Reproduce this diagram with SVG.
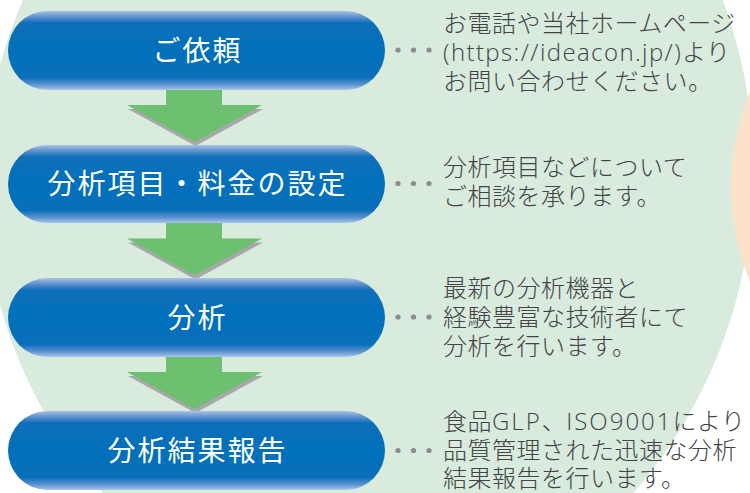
<svg xmlns="http://www.w3.org/2000/svg" width="750" height="493" viewBox="0 0 750 493">
  <defs>
    <linearGradient id="pill" x1="0" y1="0" x2="0" y2="1">
      <stop offset="0" stop-color="#a9c4e6"/>
      <stop offset="0.06" stop-color="#6d9ad2"/>
      <stop offset="0.15" stop-color="#0f6fba"/>
      <stop offset="0.5" stop-color="#0070bb"/>
      <stop offset="0.84" stop-color="#0a6fb9"/>
      <stop offset="0.93" stop-color="#5d92cf"/>
      <stop offset="1" stop-color="#a9c6e8"/>
    </linearGradient>
    <clipPath id="lensClip">
      <circle cx="261.5" cy="171" r="492"/>
    </clipPath>
    <polygon id="arrowHead" points="127,0 262,0 194.5,37"/>
  </defs>
  <style>
    .pill { fill: url(#pill); }
    .label { fill: #ffffff; font-family: "Noto Sans CJK JP", "Noto Sans", sans-serif; font-size: 28px; letter-spacing: 2px; text-anchor: middle; }
    .desc { fill: #444444; font-family: "Noto Sans CJK JP", "Noto Sans", sans-serif; font-size: 24px; font-weight: 300; letter-spacing: 0.5px; }
    .lat { font-family: "Open Sans", "Noto Sans CJK JP", sans-serif; font-weight: 300; letter-spacing: 1.4px; }
    .lat2 { letter-spacing: 2px; }
    .dot { fill: #8c8c8c; }
    .arrow { fill: #6cc070; }
    .shadow { fill: #a8a8aa; }
  </style>

  <!-- background -->
  <rect x="0" y="0" width="750" height="493" fill="#ffffff"/>
  <circle cx="442" cy="185" r="458" fill="#d8ebdd" clip-path="url(#lensClip)"/>
  <circle cx="977" cy="187" r="246" fill="#fde2cb"/>

  <!-- connectors -->
  <g id="connectors">
    <g id="arrow1">
      <use href="#arrowHead" class="shadow" transform="translate(1,109)"/>
      <rect class="arrow" x="166" y="89" width="56" height="17"/>
      <use href="#arrowHead" class="arrow" transform="translate(0,105)"/>
    </g>
    <g id="arrow2">
      <use href="#arrowHead" class="shadow" transform="translate(1,242.5)"/>
      <rect class="arrow" x="166" y="222" width="56" height="17.5"/>
      <use href="#arrowHead" class="arrow" transform="translate(0,238.5)"/>
    </g>
    <g id="arrow3">
      <use href="#arrowHead" class="shadow" transform="translate(1,376)"/>
      <rect class="arrow" x="166" y="356" width="56" height="17"/>
      <use href="#arrowHead" class="arrow" transform="translate(0,372)"/>
    </g>
  </g>

  <!-- nodes -->
  <g id="node1">
    <rect class="pill" x="8" y="11" width="377" height="79" rx="39.5"/>
    <text class="label" x="197.5" y="60.5">ご依頼</text>
  </g>
  <g id="node2">
    <rect class="pill" x="8" y="145" width="377" height="78" rx="39"/>
    <text class="label" x="197.5" y="194">分析項目・料金の設定</text>
  </g>
  <g id="node3">
    <rect class="pill" x="8" y="278" width="377" height="79" rx="39.5"/>
    <text class="label" x="197.5" y="327.5">分析</text>
  </g>
  <g id="node4">
    <rect class="pill" x="8" y="411" width="377" height="79" rx="39.5"/>
    <text class="label" x="197.5" y="460.5">分析結果報告</text>
  </g>

  <!-- descriptions -->
  <g id="desc1">
    <circle class="dot" cx="398" cy="50" r="2.6"/>
    <circle class="dot" cx="413.5" cy="50" r="2.6"/>
    <circle class="dot" cx="429" cy="50" r="2.6"/>
    <text class="desc"><tspan x="443" y="31.5">お電話や当社ホームページ</tspan><tspan x="443" y="61"><tspan class="lat">(https://ideacon.jp/)</tspan>より</tspan><tspan x="443" y="90">お問い合わせください。</tspan></text>
  </g>
  <g id="desc2">
    <circle class="dot" cx="398" cy="183.5" r="2.6"/>
    <circle class="dot" cx="413.5" cy="183.5" r="2.6"/>
    <circle class="dot" cx="429" cy="183.5" r="2.6"/>
    <text class="desc"><tspan x="443" y="176">分析項目などについて</tspan><tspan x="443" y="205">ご相談を承ります。</tspan></text>
  </g>
  <g id="desc3">
    <circle class="dot" cx="398" cy="317" r="2.6"/>
    <circle class="dot" cx="413.5" cy="317" r="2.6"/>
    <circle class="dot" cx="429" cy="317" r="2.6"/>
    <text class="desc"><tspan x="443" y="297">最新の分析機器と</tspan><tspan x="443" y="326">経験豊富な技術者にて</tspan><tspan x="443" y="355">分析を行います。</tspan></text>
  </g>
  <g id="desc4">
    <circle class="dot" cx="398" cy="450.5" r="2.6"/>
    <circle class="dot" cx="413.5" cy="450.5" r="2.6"/>
    <circle class="dot" cx="429" cy="450.5" r="2.6"/>
    <text class="desc"><tspan x="443" y="430">食品<tspan class="lat lat2">GLP</tspan>、<tspan class="lat lat2">ISO9001</tspan>により</tspan><tspan x="443" y="458.5">品質管理された迅速な分析</tspan><tspan x="443" y="486.5">結果報告を行います。</tspan></text>
  </g>
</svg>
